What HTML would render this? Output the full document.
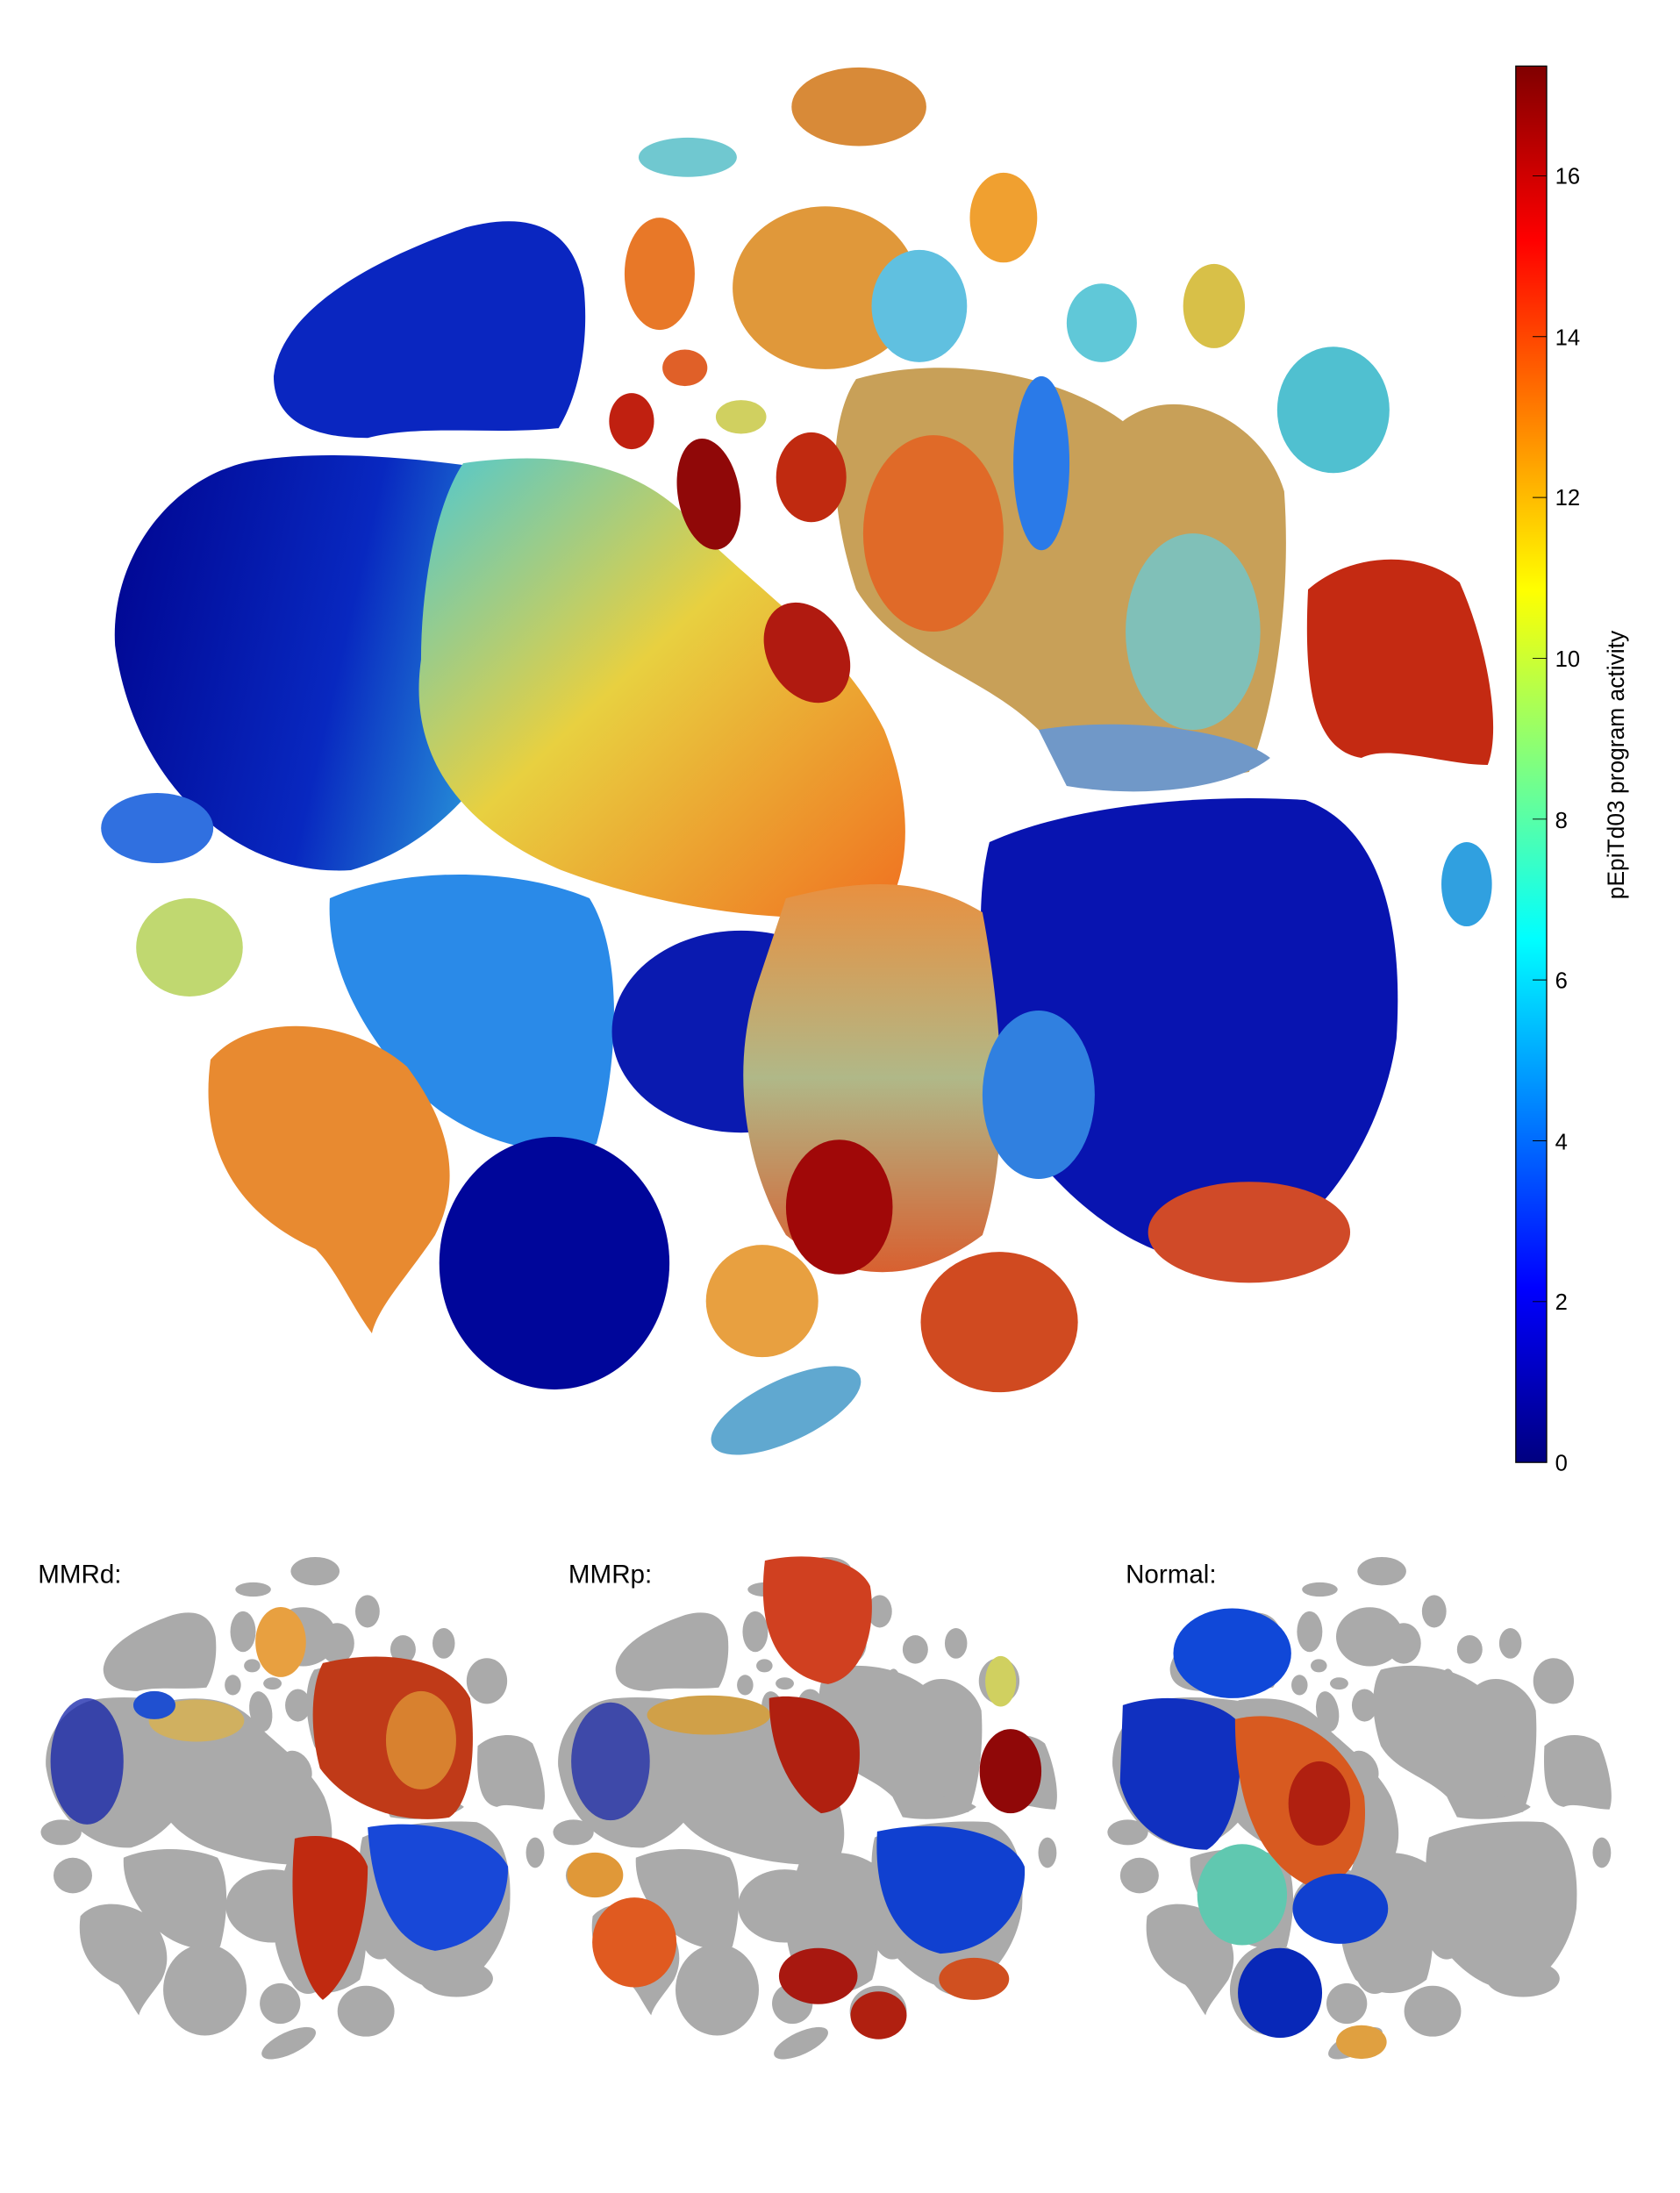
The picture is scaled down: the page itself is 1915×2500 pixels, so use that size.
<!DOCTYPE html>
<html><head><meta charset="utf-8"><style>
html,body{margin:0;padding:0;background:#fff;}
svg{display:block;}
text{font-family:"Liberation Sans",sans-serif;}
</style></head><body>
<svg width="1915" height="2500" viewBox="0 0 1197 1562.5" xmlns="http://www.w3.org/2000/svg">
<defs>
<linearGradient id="jet" x1="0" y1="1" x2="0" y2="0">
<stop offset="0" stop-color="#000080"/><stop offset="0.125" stop-color="#0000ff"/><stop offset="0.375" stop-color="#00ffff"/><stop offset="0.625" stop-color="#ffff00"/><stop offset="0.875" stop-color="#ff0000"/><stop offset="1" stop-color="#800000"/>
</linearGradient>
<linearGradient id="nw" x1="0" y1="0" x2="1" y2="0.2"><stop offset="0" stop-color="#00048f"/><stop offset="0.55" stop-color="#0828c0"/><stop offset="1" stop-color="#30b0e0"/></linearGradient>
<linearGradient id="band" x1="0" y1="0" x2="1" y2="1"><stop offset="0" stop-color="#50c8d0"/><stop offset="0.45" stop-color="#e8d040"/><stop offset="1" stop-color="#f07020"/></linearGradient>
<linearGradient id="ctr" x1="0" y1="0" x2="0" y2="1"><stop offset="0" stop-color="#e89040"/><stop offset="0.5" stop-color="#b0b888"/><stop offset="1" stop-color="#d86030"/></linearGradient>
<g id="sil">
<path style="fill:var(--g,#0a26c0)" d="M195,268 C200,222 262,186 332,162 C378,150 408,162 416,205 C420,245 412,282 398,305 C352,310 300,302 262,312 C226,312 195,302 195,268Z"/>
<path style="fill:var(--g,url(#nw))" d="M82,460 C78,398 122,338 182,328 C250,318 330,330 420,345 L400,460 C360,540 320,600 250,620 C170,625 96,560 82,460Z"/>
<path style="fill:var(--g,url(#band))" d="M330,330 C400,320 460,330 500,380 C540,420 600,460 630,520 C650,570 650,620 630,650 C570,660 480,650 400,620 C330,590 290,540 300,470 C300,420 310,360 330,330Z"/>
<path style="fill:var(--g,#2a8ae8)" d="M235,640 C280,620 360,615 420,640 C445,680 440,760 425,815 C390,830 330,810 300,780 C260,740 232,690 235,640Z"/>
<ellipse style="fill:var(--g,#0a1ab0)" cx="528" cy="735" rx="92" ry="72"/>
<ellipse style="fill:var(--g,#00069a)" cx="395" cy="900" rx="82" ry="90"/>
<path style="fill:var(--g,#0814b0)" d="M705,600 C760,575 850,565 930,570 C985,590 1000,660 995,740 C985,810 940,880 880,900 C820,905 760,860 720,800 C705,740 690,660 705,600Z"/>
<path style="fill:var(--g,url(#ctr))" d="M560,640 C600,630 650,620 700,650 C715,730 720,820 700,880 C660,910 610,920 560,880 C530,830 520,760 540,700Z"/>
<ellipse style="fill:var(--g,#a00808)" cx="598" cy="860" rx="38" ry="48"/>
<path style="fill:var(--g,#e88a30)" d="M150,755 C180,720 250,725 290,760 C320,800 330,840 310,880 C290,910 270,930 265,950 C250,930 240,905 225,890 C180,870 140,830 150,755Z"/>
<ellipse style="fill:var(--g,#3070e0)" cx="112" cy="590" rx="40" ry="25"/>
<ellipse style="fill:var(--g,#c0d870)" cx="135" cy="675" rx="38" ry="35"/>
<path style="fill:var(--g,#c8a058)" d="M610,270 C680,250 760,270 800,300 C840,270 900,300 915,350 C920,420 910,500 890,550 C840,560 780,530 740,520 C700,480 640,470 610,420 C590,360 590,300 610,270Z"/>
<ellipse style="fill:var(--g,#e06a28)" cx="665" cy="380" rx="50" ry="70"/>
<ellipse style="fill:var(--g,#80c0b8)" cx="850" cy="450" rx="48" ry="70"/>
<ellipse style="fill:var(--g,#2a7ae8)" cx="742" cy="330" rx="20" ry="62"/>
<path style="fill:var(--g,#c42a12)" d="M932,420 C960,395 1010,390 1040,415 C1060,460 1070,520 1060,545 C1030,545 990,530 970,540 C940,535 928,500 932,420Z"/>
<ellipse style="fill:var(--g,#d04a28)" cx="890" cy="878" rx="72" ry="36"/>
<ellipse style="fill:var(--g,#50c0d0)" cx="950" cy="292" rx="40" ry="45"/>
<ellipse style="fill:var(--g,#30a0e0)" cx="1045" cy="630" rx="18" ry="30"/>
<ellipse style="fill:var(--g,#d88a38)" cx="612" cy="76" rx="48" ry="28"/>
<ellipse style="fill:var(--g,#70c8d0)" cx="490" cy="112" rx="35" ry="14"/>
<ellipse style="fill:var(--g,#e0983a)" cx="588" cy="205" rx="66" ry="58"/>
<ellipse style="fill:var(--g,#60c0e0)" cx="655" cy="218" rx="34" ry="40"/>
<ellipse style="fill:var(--g,#f0a030)" cx="715" cy="155" rx="24" ry="32"/>
<ellipse style="fill:var(--g,#60c8d8)" cx="785" cy="230" rx="25" ry="28"/>
<ellipse style="fill:var(--g,#d8c048)" cx="865" cy="218" rx="22" ry="30"/>
<ellipse style="fill:var(--g,#e87828)" cx="470" cy="195" rx="25" ry="40"/>
<ellipse style="fill:var(--g,#e06028)" cx="488" cy="262" rx="16" ry="13"/>
<ellipse style="fill:var(--g,#d0d060)" cx="528" cy="297" rx="18" ry="12"/>
<ellipse style="fill:var(--g,#c02010)" cx="450" cy="300" rx="16" ry="20"/>
<ellipse style="fill:var(--g,#900808)" cx="505" cy="352" rx="22" ry="40" transform="rotate(-10 505 352)"/>
<ellipse style="fill:var(--g,#c02a10)" cx="578" cy="340" rx="25" ry="32"/>
<ellipse style="fill:var(--g,#b01a10)" cx="575" cy="465" rx="28" ry="38" transform="rotate(-30 575 465)"/>
<ellipse style="fill:var(--g,#e8a040)" cx="543" cy="927" rx="40" ry="40"/>
<ellipse style="fill:var(--g,#d04a20)" cx="712" cy="942" rx="56" ry="50"/>
<ellipse style="fill:var(--g,#60a8d0)" cx="560" cy="1005" rx="58" ry="22" transform="rotate(-25 560 1005)"/>
<ellipse style="fill:var(--g,#3080e0)" cx="740" cy="780" rx="40" ry="60"/>
<path style="fill:var(--g,#7098c8)" d="M740,520 C800,510 880,520 905,540 C880,560 820,570 760,560Z"/>
</g>
</defs>

<use href="#sil"/>

<rect x="1080" y="47" width="22" height="995" fill="url(#jet)" stroke="#000" stroke-width="0.8"/>
<g stroke="#000" stroke-width="0.6">
<line x1="1092" x2="1102" y1="927.4" y2="927.4"/><line x1="1092" x2="1102" y1="812.8" y2="812.8"/><line x1="1092" x2="1102" y1="698.2" y2="698.2"/><line x1="1092" x2="1102" y1="583.6" y2="583.6"/><line x1="1092" x2="1102" y1="469" y2="469"/><line x1="1092" x2="1102" y1="354.4" y2="354.4"/><line x1="1092" x2="1102" y1="239.8" y2="239.8"/><line x1="1092" x2="1102" y1="125.2" y2="125.2"/>
</g>
<g font-size="16" fill="#000">
<text x="1108" y="1048">0</text><text x="1108" y="933">2</text><text x="1108" y="819">4</text><text x="1108" y="704">6</text><text x="1108" y="590">8</text><text x="1108" y="475">10</text><text x="1108" y="360">12</text><text x="1108" y="246">14</text><text x="1108" y="131">16</text>
</g>
<text x="0" y="0" font-size="16.5" text-anchor="middle" transform="translate(1157,545) rotate(-90)">pEpiTd03 program activity</text>

<g font-size="18.5" fill="#000">
<text x="27" y="1128">MMRd:</text><text x="405" y="1128">MMRp:</text><text x="802" y="1128">Normal:</text>
</g>
<use href="#sil" style="--g:#aaaaaa" transform="translate(3,1092) scale(0.362)"/>
<use href="#sil" style="--g:#aaaaaa" transform="translate(368,1092) scale(0.362)"/>
<use href="#sil" style="--g:#aaaaaa" transform="translate(763,1092) scale(0.362)"/>

<g>
<ellipse cx="200" cy="1170" rx="18" ry="25" fill="#e8a040"/>
<path d="M230,1185 C270,1175 320,1180 335,1210 C340,1250 335,1285 320,1295 C290,1300 250,1290 228,1260 C220,1230 222,1200 230,1185Z" fill="#c03a18"/>
<ellipse cx="300" cy="1240" rx="25" ry="35" fill="#e8b040" opacity="0.6"/>
<path d="M262,1302 C300,1295 350,1305 362,1330 C362,1360 345,1385 310,1390 C280,1385 265,1350 262,1302Z" fill="#1848d8"/>
<path d="M210,1310 C230,1305 255,1310 262,1330 C262,1370 250,1410 230,1425 C212,1410 205,1360 210,1310Z" fill="#c02a10"/>
<ellipse cx="140" cy="1226" rx="34" ry="15" fill="#d0b060"/>
<ellipse cx="62" cy="1255" rx="26" ry="45" fill="#1020a8" opacity="0.75"/>
<ellipse cx="110" cy="1215" rx="15" ry="10" fill="#2050d0"/>
</g>
<g>
<path d="M545,1112 C575,1105 610,1110 620,1130 C625,1160 615,1195 590,1200 C560,1195 538,1170 545,1112Z" fill="#d04020"/>
<ellipse cx="720" cy="1262" rx="22" ry="30" fill="#900808"/>
<ellipse cx="713" cy="1198" rx="11" ry="18" fill="#d0d060"/>
<path d="M625,1305 C670,1295 720,1305 730,1330 C732,1360 710,1390 670,1392 C640,1385 622,1355 625,1305Z" fill="#1040d0"/>
<ellipse cx="452" cy="1384" rx="30" ry="32" fill="#e05a20"/>
<ellipse cx="424" cy="1336" rx="20" ry="16" fill="#e09838"/>
<ellipse cx="626" cy="1436" rx="20" ry="17" fill="#b02010"/>
<ellipse cx="583" cy="1408" rx="28" ry="20" fill="#a81810"/>
<ellipse cx="694" cy="1410" rx="25" ry="15" fill="#d05020"/>
<ellipse cx="435" cy="1255" rx="28" ry="42" fill="#1020a8" opacity="0.7"/>
<ellipse cx="505" cy="1222" rx="44" ry="14" fill="#d0a048"/>
<path d="M548,1210 C570,1205 605,1215 612,1240 C615,1270 605,1290 585,1292 C565,1280 548,1250 548,1210Z" fill="#b02010"/>
</g>
<g>
<ellipse cx="878" cy="1178" rx="42" ry="32" fill="#1048d8"/>
<path d="M800,1215 C830,1205 870,1210 885,1230 C885,1270 880,1305 860,1318 C830,1318 805,1300 798,1270Z" fill="#1030c0"/>
<path d="M880,1225 C920,1215 960,1240 972,1280 C976,1320 960,1345 935,1345 C900,1330 880,1290 880,1225Z" fill="#d85a20"/>
<ellipse cx="940" cy="1285" rx="22" ry="30" fill="#b02010"/>
<ellipse cx="955" cy="1360" rx="34" ry="25" fill="#1040d0"/>
<ellipse cx="912" cy="1420" rx="30" ry="32" fill="#0828b8"/>
<ellipse cx="885" cy="1350" rx="32" ry="36" fill="#60c8b0"/>
<ellipse cx="970" cy="1455" rx="18" ry="12" fill="#e0a040"/>
</g>
</svg>
</body></html>
